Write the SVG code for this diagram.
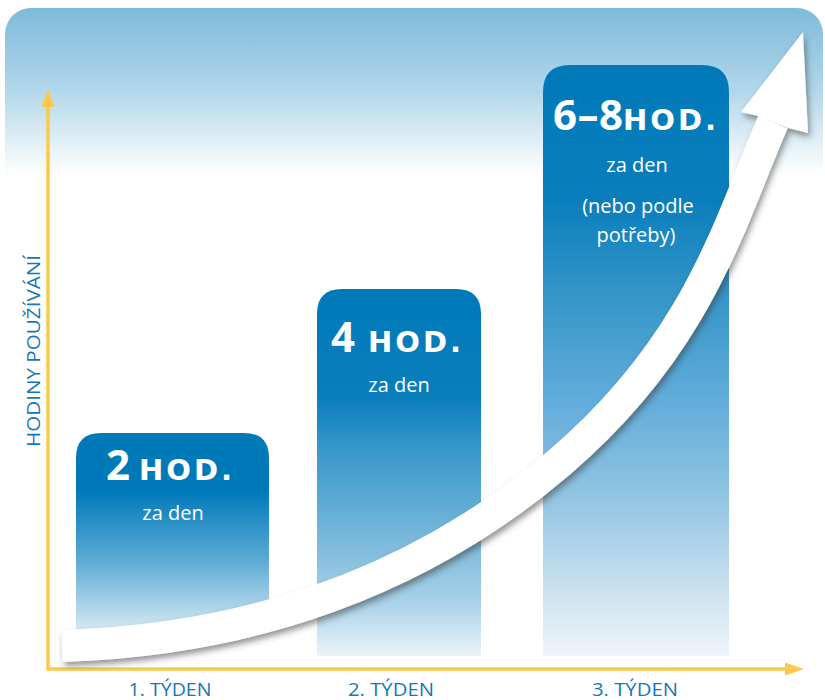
<svg xmlns="http://www.w3.org/2000/svg" width="825" height="700" viewBox="0 0 825 700">
<defs>
<linearGradient id="bg" x1="0" y1="8" x2="0" y2="175" gradientUnits="userSpaceOnUse">
<stop offset="0" stop-color="#7dbadb"/>
<stop offset="0.5" stop-color="#b3d7ea"/>
<stop offset="1" stop-color="#ffffff"/>
</linearGradient>
<linearGradient id="g1" x1="0" y1="0" x2="0" y2="1">
<stop offset="0" stop-color="#0079b9"/>
<stop offset="0.29" stop-color="#0079b9"/>
<stop offset="0.64" stop-color="#5aaad4"/>
<stop offset="1" stop-color="#d5e8f3"/>
</linearGradient>
<linearGradient id="g2" x1="0" y1="0" x2="0" y2="1">
<stop offset="0" stop-color="#0079b9"/>
<stop offset="0.3" stop-color="#0a7ebc"/>
<stop offset="0.44" stop-color="#3a98cb"/>
<stop offset="0.57" stop-color="#5aa9d3"/>
<stop offset="0.85" stop-color="#a8d0e7"/>
<stop offset="1" stop-color="#ebf4f9"/>
</linearGradient>
<linearGradient id="g3" x1="0" y1="0" x2="0" y2="1">
<stop offset="0" stop-color="#0079b9"/>
<stop offset="0.23" stop-color="#0a7ebc"/>
<stop offset="0.4" stop-color="#3797c9"/>
<stop offset="0.57" stop-color="#62addb"/>
<stop offset="0.74" stop-color="#94c6e2"/>
<stop offset="0.9" stop-color="#cfe3f0"/>
<stop offset="1" stop-color="#eef5fa"/>
</linearGradient>
<filter id="shadow" x="-10%" y="-10%" width="130%" height="130%">
<feDropShadow dx="2" dy="4" stdDeviation="3" flood-color="#3a3a3a" flood-opacity="0.55"/>
</filter>
</defs>
<style>
.big{font-family:"Open Sans","Liberation Sans",sans-serif;font-weight:bold;fill:#ffffff;}
.hod{font-family:"DejaVu Sans",sans-serif;font-weight:bold;font-size:29px;letter-spacing:3px;fill:#ffffff;}
.sub{font-family:"Open Sans","Liberation Sans",sans-serif;font-size:20px;fill:#ffffff;text-anchor:middle;}
.ax{font-family:"Open Sans","Liberation Sans",sans-serif;font-size:18.5px;fill:#1577b9;text-anchor:middle;}
.axis{stroke:#fdc94b;stroke-width:3.5;fill:none;}
</style>
<rect x="5" y="8" width="818" height="720" rx="26" fill="url(#bg)"/>

<g id="bar1">
<path d="M76,458 Q76,433 101,433 L244,433 Q269,433 269,458 L269,630 L76,630 Z" fill="url(#g1)"/>
<text class="big" x="106" y="480" font-size="42">2</text>
<text class="hod" x="139" y="480">HOD.</text>
<text class="sub" x="173" y="520">za den</text>
</g>
<g id="bar2">
<path d="M317,314 Q317,289 342,289 L456,289 Q481,289 481,314 L481,656 L317,656 Z" fill="url(#g2)"/>
<text class="big" x="331" y="352" font-size="42">4</text>
<text class="hod" x="368" y="352">HOD.</text>
<text class="sub" x="399" y="392">za den</text>
</g>
<g id="bar3">
<path d="M543,92 Q543,65 570,65 L702,65 Q729,65 729,92 L729,656 L543,656 Z" fill="url(#g3)"/>
<text class="big" x="553" y="130" font-size="42" textLength="70" lengthAdjust="spacing">6–8</text>
<text class="hod" x="623" y="130">HOD.</text>
<text class="sub" x="637" y="172">za den</text>
<text class="sub" x="638" y="213">(nebo podle</text>
<text class="sub" x="636" y="242">potřeby)</text>
</g>

<g id="connectors">
<line class="axis" x1="48" y1="105" x2="48" y2="669"/>
<polygon points="48,89 41.5,107 54.5,107" fill="#fdc94b"/>
<line class="axis" x1="46.5" y1="669" x2="788" y2="669"/>
<polygon points="804,669 785,662.5 785,675.5" fill="#fdc94b"/>
<g id="growth-arrow" filter="url(#shadow)" fill="#ffffff">
<path d="M62,646 C250,640 420,582 560,462 S730,220 773,122" fill="none" stroke="#ffffff" stroke-width="32"/>
<polygon points="741,112 803,32 808,133 788,128 758,116"/>
</g>
</g>

<g id="labels">
<text class="ax" x="170" y="696" textLength="83" lengthAdjust="spacingAndGlyphs">1. TÝDEN</text>
<text class="ax" x="391" y="696" textLength="86" lengthAdjust="spacingAndGlyphs">2. TÝDEN</text>
<text class="ax" x="635" y="696" textLength="86" lengthAdjust="spacingAndGlyphs">3. TÝDEN</text>
<text class="ax" transform="translate(39.5,351) rotate(-90)" x="0" y="0" font-size="19" textLength="192" lengthAdjust="spacingAndGlyphs">HODINY POUŽÍVÁNÍ</text>
</g>
</svg>
